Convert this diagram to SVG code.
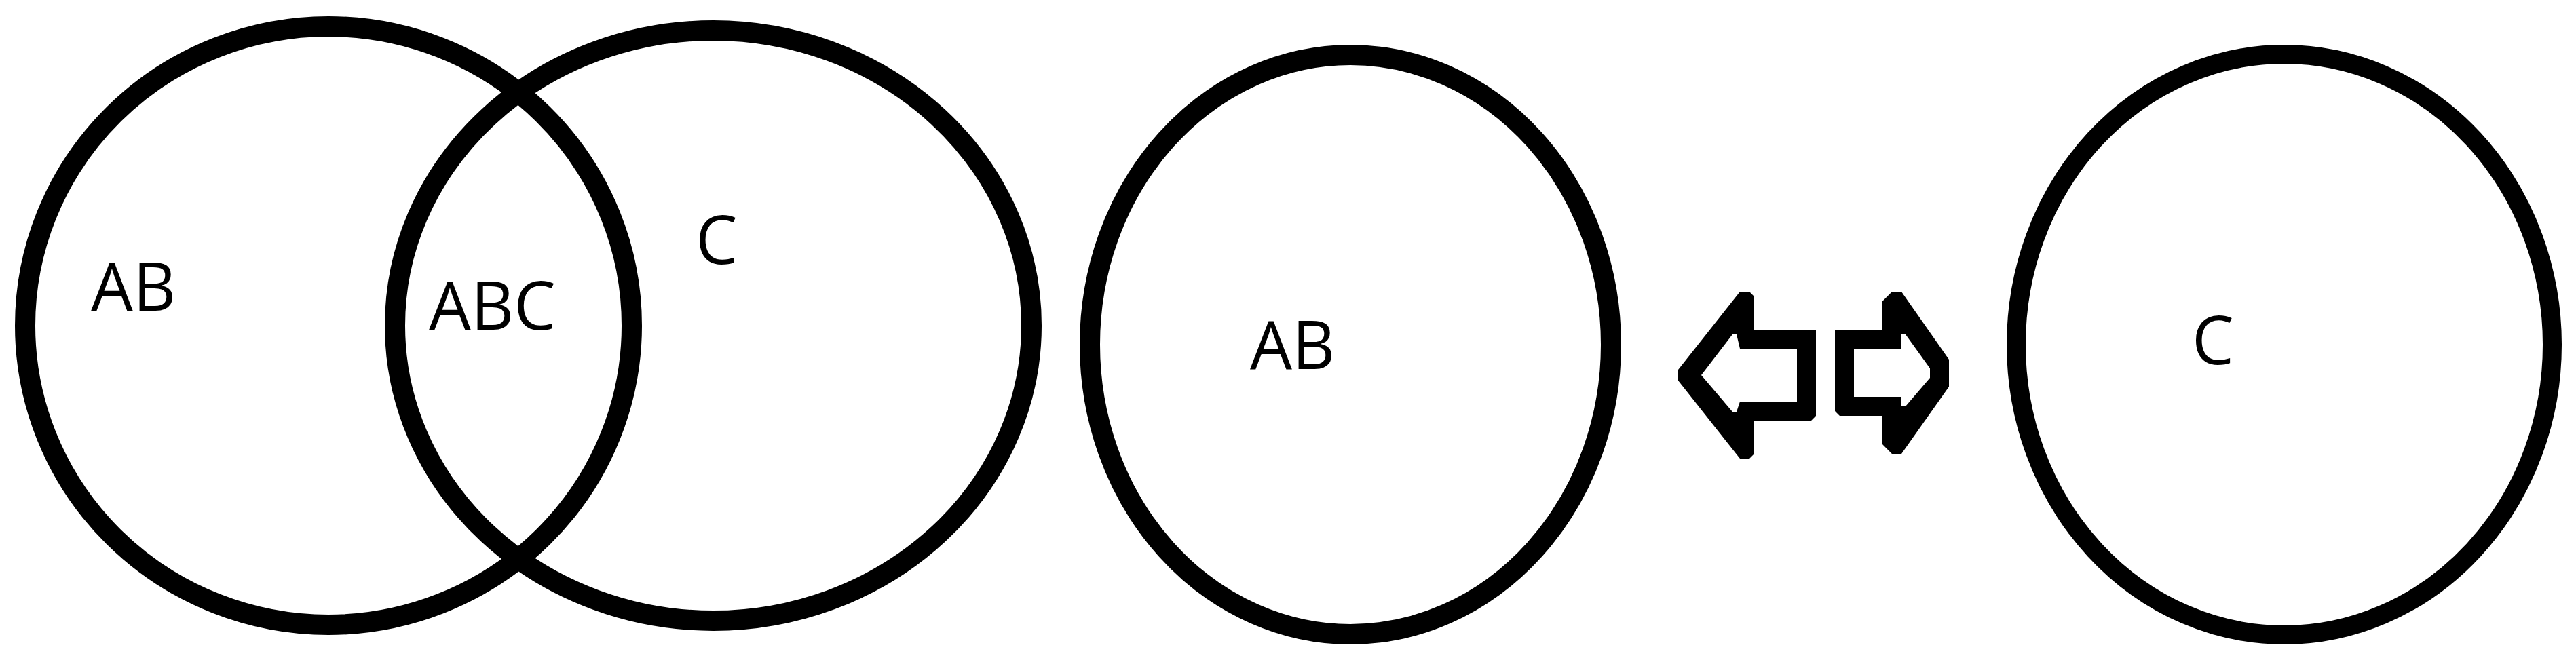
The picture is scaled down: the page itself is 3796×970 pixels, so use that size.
<svg xmlns="http://www.w3.org/2000/svg" width="3796" height="970" viewBox="0 0 3796 970">
  <style>
    .ring { fill: none; stroke: #000; stroke-width: 30; }
    .lbl { font-family: "Open Sans", "Noto Sans", "Liberation Sans", sans-serif; font-size: 98px; fill: #000; }
    .arrow { fill: #000; fill-rule: evenodd; stroke: none; }
  </style>
  <rect x="0" y="0" width="3796" height="970" fill="#fff"/>

  <g id="set-AB-left">
    <ellipse class="ring" cx="484" cy="480" rx="447" ry="441"/>
    <text class="lbl" x="134" y="458">AB</text>
  </g>

  <g id="set-C-left">
    <ellipse class="ring" cx="1051" cy="480" rx="469" ry="435"/>
    <text class="lbl" x="1025" y="389">C</text>
  </g>

  <g id="intersection-ABC">
    <text class="lbl" x="632" y="486">ABC</text>
  </g>

  <g id="set-AB-right">
    <ellipse class="ring" cx="1990" cy="508" rx="384" ry="427"/>
    <text class="lbl" x="1842" y="544">AB</text>
  </g>

  <g id="set-C-right">
    <ellipse class="ring" cx="3366" cy="508" rx="395" ry="428" style="stroke-width:28"/>
    <text class="lbl" x="3230" y="537">C</text>
  </g>

  <g id="connectors">
    <path class="arrow" d="M2473,545 L2564,430 L2578,430 L2585,437 L2585,487 L2676,487 L2676,613 L2669,620 L2585,620 L2585,669 L2578,676 L2564,676 L2473,561 Z
             M2507,553 L2553,493 L2559,493 L2564,514 L2648,514 L2648,592 L2564,592 L2559,607 L2553,607 Z"/>
    <path class="arrow" d="M2704,487 L2774,487 L2774,444 L2788,430 L2802,430 L2872,530 L2872,570 L2802,669 L2788,669 L2774,655 L2774,613 L2711,613 L2704,606 Z
             M2732,514 L2802,514 L2802,493 L2808,493 L2844,543 L2844,557 L2808,599 L2802,599 L2802,585 L2732,585 Z"/>
  </g>
</svg>
